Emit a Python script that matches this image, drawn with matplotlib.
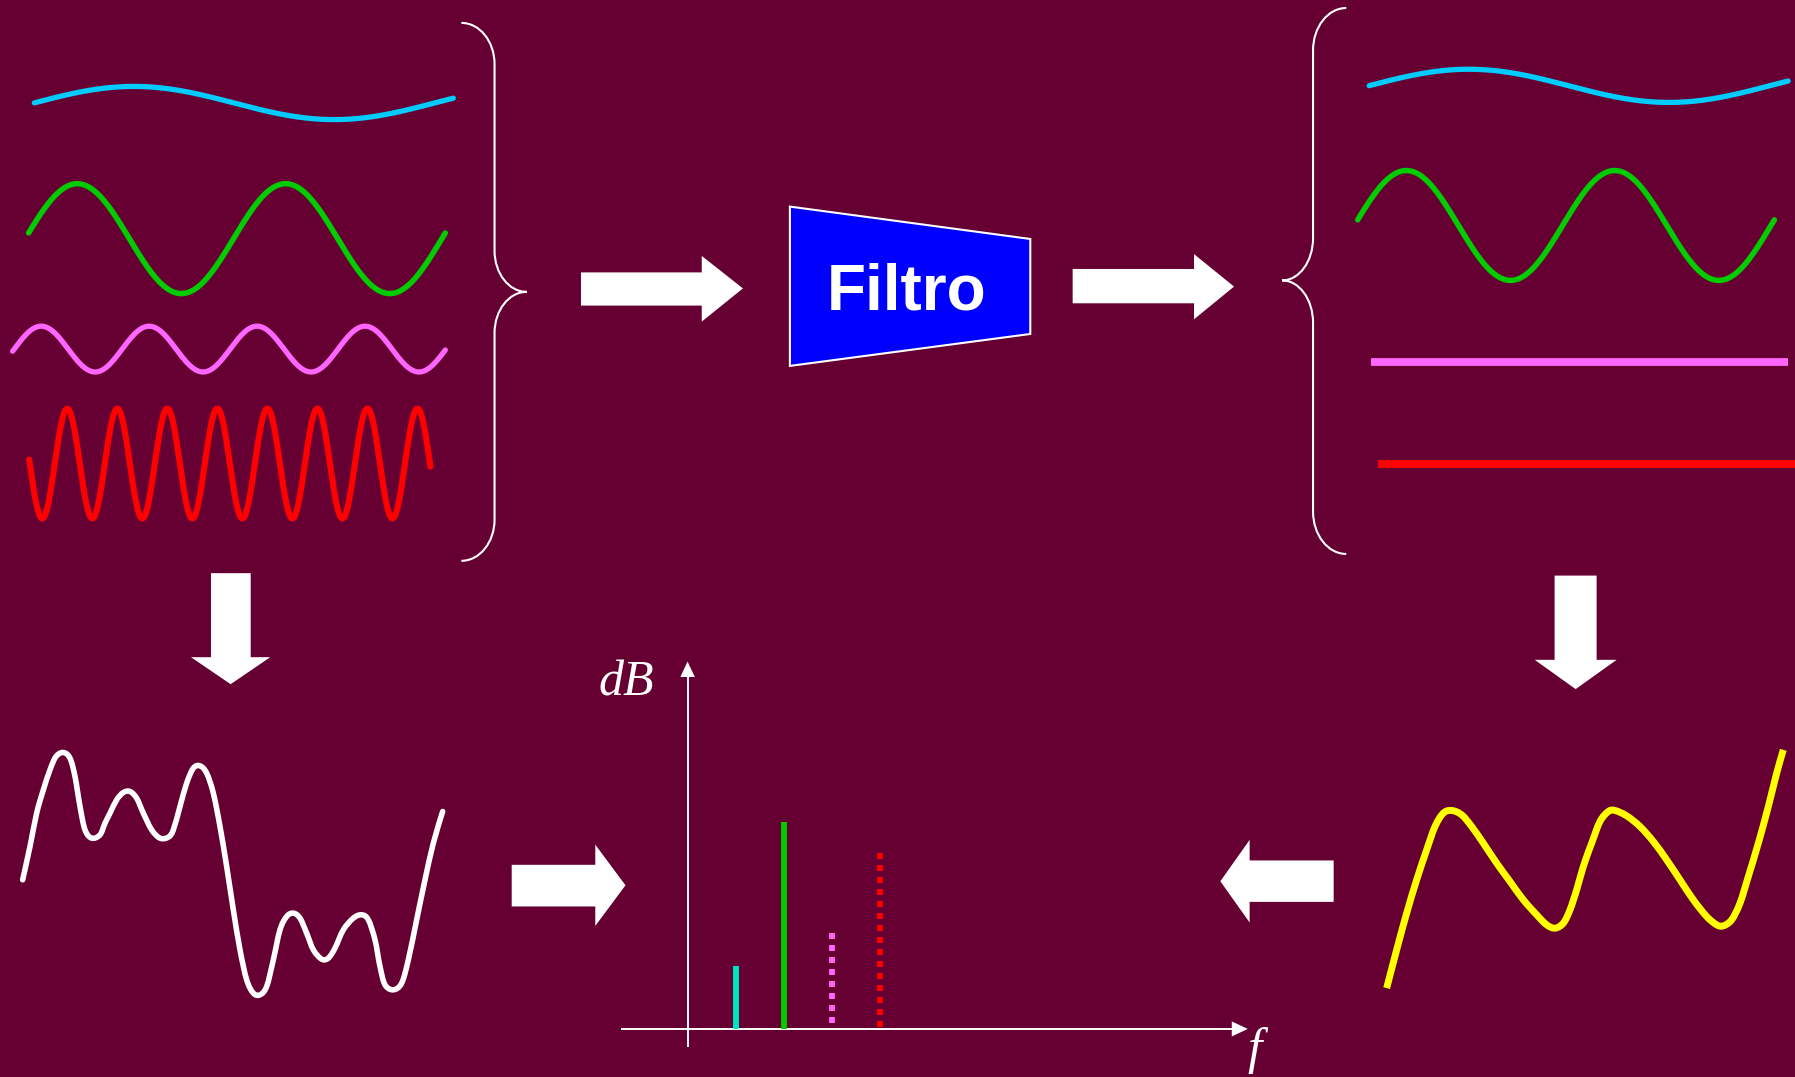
import numpy as np
import matplotlib
matplotlib.use("Agg")
import matplotlib.pyplot as plt
from matplotlib.patches import Polygon, PathPatch
from matplotlib.path import Path
from matplotlib.transforms import Affine2D

# ------------------------------------------------------------
# Data (canvas units 0..1568 x 0..941)
# ------------------------------------------------------------
BG = "#660033"

# sine components: x range, centre, amplitude, period, rising zero crossing
wave_names = ["low", "mid", "high", "top"]
wave_colors = ["#00CCFF", "#00CC00", "#FF66FF", "#FF0000"]
wave_widths = [3.8, 4.0, 3.8, 4.4]
wave_x_start = [30, 25, 11, 25.5]
wave_x_end = [396, 389, 389, 376]
wave_center = [90, 208.5, 305, 405]
wave_amp = [14.5, 48, 20, 48]
wave_period = [350, 182, 94.3, 43.7]
wave_phase = [29.5, 22, 12.4, 4.15]

# filtered output: the two passing components, shifted
out_x_shift = [1166, 1161]
out_center = [75, 197]
# the two blocked components become flat lines
flat_y = [316, 405]
flat_x_start = [1198, 1204]
flat_x_end = [1562, 1568]

# traced sum signal (white) and filtered sum (yellow), trace units
white_u = [68, 90, 110, 130, 150, 168, 190, 210, 225, 240, 255, 275, 300, 315,
           330, 350, 370, 390, 410, 430, 455, 480, 505, 520, 540, 560, 580, 600,
           620, 640, 660, 680, 700, 720, 740, 760, 780, 800, 820, 840, 860, 880,
           900, 920, 940, 965, 985, 1005, 1030, 1060, 1085, 1105, 1125, 1140,
           1155, 1180, 1205, 1225, 1250, 1275, 1300, 1328]
white_v = [960, 860, 760, 690, 630, 590, 578, 595, 650, 740, 810, 835, 825, 790,
           760, 720, 698, 695, 715, 760, 810, 835, 832, 810, 740, 670, 625, 618,
           640, 700, 800, 920, 1050, 1170, 1260, 1300, 1305, 1280, 1200, 1110,
           1070, 1060, 1075, 1120, 1170, 1198, 1195, 1165, 1110, 1075, 1065,
           1080, 1140, 1220, 1275, 1290, 1270, 1200, 1080, 960, 850, 755]
yellow_u = [80, 110, 140, 170, 200, 225, 250, 275, 305, 335, 370, 410, 450, 490,
            530, 560, 585, 610, 630, 650, 670, 695, 720, 745, 765, 800, 840, 880,
            920, 960, 1000, 1040, 1070, 1090, 1115, 1140, 1165, 1195, 1225, 1250,
            1270]
yellow_v = [1285, 1170, 1060, 960, 870, 800, 760, 752, 765, 800, 850, 910, 965,
            1020, 1065, 1095, 1105, 1090, 1050, 990, 920, 850, 785, 755, 752, 768,
            800, 845, 900, 960, 1020, 1070, 1095, 1098, 1080, 1030, 950, 850, 740,
            640, 570]

# spectrum lines
spec_x = [642.7, 684.8, 727, 768.7]
spec_top = [844, 718, 815.3, 745.4]
spec_bottom = [899, 899, 893.8, 897]
spec_colors = ["#00E5C8", "#00CC00", "#FF66FF", "#FF0000"]
spec_dotted = [False, False, True, True]

# ------------------------------------------------------------
# Canvas
# ------------------------------------------------------------
plt.rcParams["lines.scale_dashes"] = False
fig = plt.figure(figsize=(17.95, 10.77), dpi=100, facecolor=BG)
ax = fig.add_axes([0, 0, 1, 1])
ax.set_facecolor(BG)
ax.set_xlim(0, 1568)
ax.set_ylim(941, 0)
ax.axis("off")


def sine(x, i):
    return wave_center[i] - wave_amp[i] * np.sin(2 * np.pi * (x - wave_phase[i]) / wave_period[i])


# input components
for i in range(4):
    x = np.linspace(wave_x_start[i], wave_x_end[i], 600)
    ax.plot(x, sine(x, i), color=wave_colors[i], lw=wave_widths[i],
            solid_capstyle="round")

# output components
for i in range(2):
    x = np.linspace(wave_x_start[i], wave_x_end[i], 600)
    y = sine(x, i) - wave_center[i] + out_center[i]
    ax.plot(x + out_x_shift[i], y, color=wave_colors[i], lw=wave_widths[i],
            solid_capstyle="round")
for j in range(2):
    ax.plot([flat_x_start[j], flat_x_end[j]], [flat_y[j], flat_y[j]],
            color=wave_colors[j + 2], lw=5.6, solid_capstyle="butt")


# traced signals, drawn as a smooth bezier path through the traced points
def smooth_path(u, v):
    p = np.column_stack([u, v]).astype(float)
    verts = [tuple(p[0])]
    codes = [Path.MOVETO]
    n = len(p)
    for k in range(n - 1):
        p0 = p[max(k - 1, 0)]
        p1, p2 = p[k], p[k + 1]
        p3 = p[min(k + 2, n - 1)]
        c1 = p1 + (p2 - p0) / 6
        c2 = p2 - (p3 - p1) / 6
        verts += [tuple(c1), tuple(c2), tuple(p2)]
        codes += [Path.CURVE4] * 3
    return Path(verts, codes)


K = 1568 / 1795
tr_white = Affine2D().scale(1 / 3).translate(0, 560).scale(K) + ax.transData
tr_yellow = Affine2D().scale(1 / 3).translate(1360, 560).scale(K) + ax.transData
ax.add_patch(PathPatch(smooth_path(white_u, white_v), fill=False, edgecolor="white",
                       lw=4.0, capstyle="round", joinstyle="round", transform=tr_white))
ax.add_patch(PathPatch(smooth_path(yellow_u, yellow_v), fill=False, edgecolor="#FFFF00",
                       lw=5.0, capstyle="butt", joinstyle="round", transform=tr_yellow))


# ------------------------------------------------------------
# Braces
# ------------------------------------------------------------
def brace(xo, xs, xt, yt, ym, yb, r):
    k = 0.5523
    verts = [
        (xo, yt), (xo + k * (xs - xo), yt), (xs, yt + r * (1 - k)), (xs, yt + r),
        (xs, ym - r),
        (xs, ym - r * (1 - k)), (xt + k * (xs - xt), ym), (xt, ym),
        (xt + k * (xs - xt), ym), (xs, ym + r * (1 - k)), (xs, ym + r),
        (xs, yb - r),
        (xs, yb - r * (1 - k)), (xo + k * (xs - xo), yb), (xo, yb),
    ]
    codes = [Path.MOVETO, Path.CURVE4, Path.CURVE4, Path.CURVE4, Path.LINETO,
             Path.CURVE4, Path.CURVE4, Path.CURVE4,
             Path.CURVE4, Path.CURVE4, Path.CURVE4, Path.LINETO,
             Path.CURVE4, Path.CURVE4, Path.CURVE4]
    ax.add_patch(PathPatch(Path(verts, codes), fill=False, edgecolor="white", lw=1.5))


brace(403, 432, 460, 20, 255, 490, 36)
brace(1176, 1147, 1120, 7, 245, 484, 37)


# ------------------------------------------------------------
# Block arrows
# ------------------------------------------------------------
def arrow_h(x0, x1, tip, y0, y1, h0, h1, ty):
    pts = [(x0, y0), (x1, y0), (x1, h0), (tip, ty), (x1, h1), (x1, y1), (x0, y1)]
    ax.add_patch(Polygon(pts, closed=True, facecolor="white", edgecolor="none"))


def arrow_v(y0, y1, tip, x0, x1, h0, h1, tx):
    pts = [(x0, y0), (x0, y1), (h0, y1), (tx, tip), (h1, y1), (x1, y1), (x1, y0)]
    ax.add_patch(Polygon(pts, closed=True, facecolor="white", edgecolor="none"))


arrow_h(507.5, 613, 649, 238, 267, 223.6, 281, 252)
arrow_h(937, 1043, 1078, 235, 265, 222, 279, 250.4)
arrow_h(447, 520, 546.4, 755.6, 792, 738, 809, 773.5)
arrow_h(1165, 1091.6, 1066, 751.8, 788, 733.8, 806, 770)
arrow_v(500.8, 574.2, 597.8, 184.3, 219, 166.8, 236.1, 201.5)
arrow_v(502.9, 576.5, 602.1, 1358, 1394.7, 1340.6, 1412.2, 1376.4)

# ------------------------------------------------------------
# Filter block
# ------------------------------------------------------------
ax.add_patch(Polygon([(690, 180.5), (900, 208.8), (900, 291.8), (690, 319.7)],
                     closed=True, facecolor="#0000FF", edgecolor="white", lw=1.5))
ax.text(792, 270, "Filtro", color="white", fontsize=46, fontweight="bold",
        family="Liberation Sans", ha="center", va="baseline")

# ------------------------------------------------------------
# Spectrum
# ------------------------------------------------------------
ax.plot([600.6, 600.6], [913.7, 590], color="white", lw=1.4)
ax.add_patch(Polygon([(594.3, 591.5), (607, 591.5), (600.6, 578)], closed=True,
                     facecolor="white", edgecolor="none"))
ax.plot([543.7, 1077], [899, 899], color="white", lw=1.4)
ax.add_patch(Polygon([(1076, 892.4), (1076, 905.6), (1090, 899)], closed=True,
                     facecolor="white", edgecolor="none"))

for x, t, b, c, d in zip(spec_x, spec_top, spec_bottom, spec_colors, spec_dotted):
    if d:
        ax.plot([x, x], [t, b], color=c, lw=4.2, solid_capstyle="butt",
                dash_capstyle="butt", linestyle=(0, (4.32, 4.32)))
    else:
        ax.plot([x, x], [t, b], color=c, lw=4.2, solid_capstyle="butt")

ax.text(523, 608, "dB", color="white", fontsize=36, style="italic",
        family="Liberation Serif", ha="left", va="baseline")
ax.text(1090, 929, "f", color="white", fontsize=37, style="italic",
        family="Liberation Serif", ha="left", va="baseline")

fig.savefig("out.png", dpi=100, facecolor=BG)
